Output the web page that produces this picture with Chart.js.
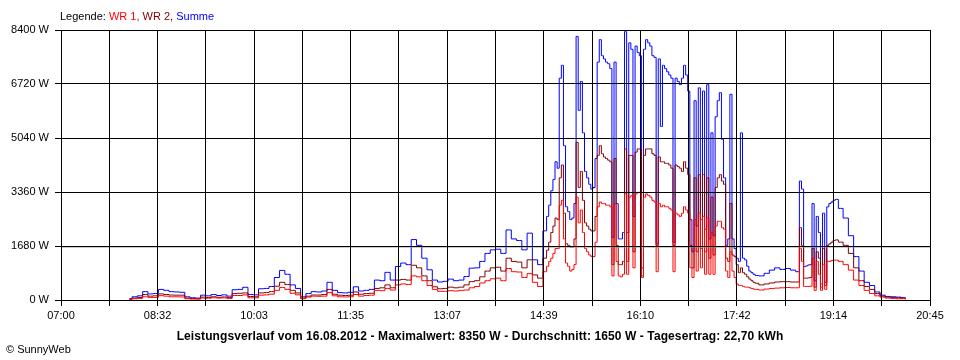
<!DOCTYPE html>
<html><head><meta charset="utf-8">
<script src="https://cdn.jsdelivr.net/npm/chart.js@4/dist/chart.umd.min.js"></script>
<style>
html,body{margin:0;padding:0;background:#fff;}
#wrap{position:relative;width:960px;height:360px;overflow:hidden;}
canvas{position:absolute;left:0;top:0;}
.t{position:absolute;font-family:"Liberation Sans",Arial,sans-serif;font-size:11px;white-space:nowrap;line-height:13px;color:#000;}
</style></head><body>
<div id="wrap">
<canvas id="c" width="960" height="360"></canvas>
<div class="t" style="left:60px;top:10px;">Legende: <span style="color:#ff0000">WR 1,</span> <span style="color:#800000">WR 2,</span> <span style="color:#0000ff">Summe</span></div>
<div class="t" style="left:0;width:960px;text-align:center;top:330px;font-weight:bold;font-size:12px;letter-spacing:0.1px;">Leistungsverlauf vom 16.08.2012 - Maximalwert: 8350 W - Durchschnitt: 1650 W - Tagesertrag: 22,70 kWh</div>
<div class="t" style="left:6px;top:343px;">© SunnyWeb</div>
</div>
<script>
const times = [
'08:05','08:10','08:15','08:20','08:25','08:30','08:35','08:40','08:45','08:50','08:55',
'09:00','09:05','09:10','09:15','09:20','09:25','09:30','09:35','09:40','09:45','09:50','09:55',
'10:00','10:05','10:10','10:15','10:20','10:25','10:30','10:35','10:40','10:45','10:50','10:55',
'11:00','11:05','11:10','11:15','11:20','11:25','11:30','11:35','11:40','11:45','11:50','11:55',
'12:00','12:05','12:10','12:15','12:20','12:25','12:30','12:35','12:40','12:45','12:50','12:55',
'13:00','13:05','13:10','13:15','13:20','13:25','13:30','13:35','13:40','13:45','13:50','13:55',
'14:00','14:05','14:10','14:15','14:20','14:25','14:30','14:35',
'14:40','14:42','14:44','14:46','14:48','14:50','14:52','14:54','14:56','14:58',
'15:00','15:02','15:04','15:06','15:08','15:10','15:12','15:14','15:16','15:18',
'15:20','15:22','15:24','15:26','15:28','15:30','15:32','15:34','15:36','15:38',
'15:40','15:42','15:44','15:46','15:48','15:50','15:52','15:54','15:56','15:58',
'16:00','16:02','16:04','16:06','16:08','16:10','16:12','16:14','16:16','16:18',
'16:20','16:22','16:24','16:26','16:28','16:30','16:32','16:34','16:36','16:38',
'16:40','16:42','16:44','16:46','16:48','16:50','16:52','16:54','16:56','16:58',
'17:00','17:02','17:04','17:06','17:08','17:10','17:12','17:14','17:16','17:18',
'17:20','17:22','17:24','17:26','17:28','17:30','17:32','17:34','17:36','17:38',
'17:40','17:42','17:44','17:46','17:48','17:50','17:52','17:54','17:56','17:58',
'18:00','18:05','18:10','18:15','18:20','18:25','18:30','18:35',
'18:40','18:42','18:44','18:46','18:48','18:50','18:52','18:54','18:56','18:58',
'19:00','19:02','19:04','19:06','19:08','19:10','19:12','19:14','19:16',
'19:20','19:25','19:30','19:35','19:40','19:45','19:50','19:55',
'20:00','20:05','20:10','20:15','20:20','20:22'
];
const summe = [
40,100,130,260,190,200,330,300,260,250,240,
100,70,60,150,130,170,140,160,120,320,330,395,
170,160,350,360,420,700,920,800,470,360,100,200,
260,250,280,550,300,230,220,240,410,280,300,330,
620,600,860,620,1040,1150,1100,1880,1700,1300,940,620,
560,580,650,600,620,730,990,1000,1200,1450,1560,1580,
1450,2180,1900,1850,1560,2080,1250,1100,
2150,2600,2950,3400,3750,4300,4100,6900,7300,4800,
2900,2750,2500,2550,3000,8200,5900,6800,5200,4000,
3800,3600,3450,3500,4400,7400,8100,7600,7500,7400,
7350,7200,1950,7400,3000,1900,1900,2100,8350,2100,
8000,7800,2600,7900,7700,7600,1000,7800,8100,8000,
7900,7600,7550,1750,7500,5400,7300,7200,7100,7000,
6900,1800,6900,6800,6700,6900,7300,7000,6500,2500,
1500,6200,2300,6600,2500,6500,2200,6700,1900,5200,
2000,5700,6200,6450,5000,3800,1700,1900,6400,1900,
1600,1300,1200,5200,1300,1250,1050,900,850,800,
760,750,830,930,1000,950,980,930,
880,3700,3450,1040,1060,1090,1100,3000,600,2600,
2100,500,2700,550,2900,3000,3050,3100,3130,
2850,2550,2000,1350,900,550,450,250,
150,110,100,90,80,70
];
const wr2 = [
20,60,80,170,120,130,190,170,155,150,150,
60,45,40,90,80,100,85,95,75,200,210,220,
110,100,220,230,260,430,550,480,300,220,60,120,
155,155,170,330,180,150,140,150,250,180,200,210,
360,380,470,380,620,640,620,1080,1000,750,600,410,
350,360,400,380,400,470,570,600,720,900,1000,1020,
900,1300,1200,1180,1000,1250,780,680,
1300,1550,1800,2100,2300,2550,2500,3800,4200,2700,
1750,1700,1650,1650,1900,4900,3500,4000,3100,2400,
2300,2200,2150,2150,2600,4500,4800,4550,4450,4400,
4350,4300,1100,4400,1700,1100,1100,1200,4700,1200,
4500,4500,1500,4600,4700,4700,750,4500,4700,4700,
4700,4550,4500,1700,4450,4300,4300,4250,4250,4200,
4100,1700,4200,4150,4100,4000,4300,4100,3900,1700,
1000,3800,1500,3900,1600,3900,1500,3800,1300,3200,
1400,3500,3800,3900,3700,3600,1300,1200,3000,1400,
1350,1100,850,1000,850,800,720,650,600,550,
520,470,500,530,560,570,570,560,
560,2250,1700,680,680,690,700,1600,400,1500,
1300,400,1600,450,1700,1750,1800,1850,1870,
1800,1700,1450,1000,600,420,330,200,
120,90,80,70,60,50
];
const wr1 = [
20,40,50,100,80,80,135,120,100,100,95,
40,30,30,60,55,70,60,65,50,140,140,160,
70,70,150,160,180,300,390,330,210,160,40,90,
120,115,120,230,130,100,95,100,170,120,140,150,
300,290,360,310,470,500,480,750,720,600,450,330,
270,270,290,280,300,310,380,420,530,600,660,680,
600,980,880,870,700,820,550,420,
880,1050,1200,1300,1450,1600,1600,2950,3100,1900,
1150,1050,900,950,1100,3200,2400,2800,2100,1600,
1500,1400,1350,1350,1800,2900,3050,3000,3000,2950,
2950,2900,750,3000,1200,750,720,800,3300,800,
3200,3250,1000,3300,3350,3350,700,3200,3300,3250,
3200,3100,3050,880,3000,2900,2950,2900,2900,2850,
2800,880,2700,2650,2600,2700,2900,2800,2700,1000,
700,2500,900,2700,1000,2600,800,2550,800,2100,
800,2300,2450,2450,2250,2200,900,700,1500,900,
700,500,450,450,420,400,400,380,360,340,
330,310,340,360,370,380,390,380,
380,1600,1200,420,420,420,430,1300,300,1200,
800,300,1100,330,1200,1200,1230,1240,1240,
1200,1100,930,620,450,300,200,130,
90,60,50,40,40,30
];
const average = 1650;
const xTickLabels = ['07:00','','08:32','','10:03','','11:35','','13:07','','14:39','','16:10','','17:42','','19:14','','20:45'];
const yTickValues = [0,1680,3360,5040,6720,8400];

const START = 7*60, END = 20*60+45, SPAN = END-START;
const toMin = s => { const p = s.split(':').map(Number); return p[0]*60+p[1]-START; };
const mk = arr => times.map((t,i)=>({x:toMin(t), y:arr[i]}));
const font = {family:'"Liberation Sans", Arial, sans-serif', size:11};

new Chart(document.getElementById('c'), {
  type:'line',
  data:{datasets:[
    {label:'Durchschnitt', data:[{x:0,y:average},{x:SPAN,y:average}], borderColor:'#8c8c8c', stepped:false, order:0},
    {label:'WR 1', data:mk(wr1), borderColor:'#ff0000', order:1},
    {label:'WR 2', data:mk(wr2), borderColor:'#800000', order:2},
    {label:'Summe', data:mk(summe), borderColor:'#0000ff', order:3}
  ]},
  options:{
    responsive:false, animation:false, devicePixelRatio:1,
    layout:{padding:{left:0,right:30,top:30,bottom:30}},
    elements:{point:{radius:0,hoverRadius:0}, line:{borderWidth:1, stepped:'middle', tension:0, fill:false}},
    plugins:{legend:{display:false}, tooltip:{enabled:false}, title:{display:false}},
    scales:{
      x:{type:'linear', min:0, max:SPAN,
        afterBuildTicks:s=>{ s.ticks = xTickLabels.map((l,i)=>({value:i*SPAN/18})); },
        afterFit:s=>{ s.height = 30; },
        border:{display:false},
        grid:{color:'#000', lineWidth:1, tickLength:6, z:1, drawOnChartArea:true, drawTicks:true},
        ticks:{autoSkip:false, maxRotation:0, minRotation:0, font:font, color:'#000', padding:3,
          callback:(v,i)=>xTickLabels[i]}
      },
      y:{type:'linear', min:0, max:8400,
        afterBuildTicks:s=>{ s.ticks = yTickValues.map(v=>({value:v})); },
        afterFit:s=>{ s.width = 61; },
        border:{display:false},
        grid:{color:'#000', lineWidth:1, tickLength:6, z:1, drawTicks:true},
        ticks:{font:font, color:'#000', padding:6, callback:v=>v+' W'}
      }
    }
  }
});
</script>
</body></html>
